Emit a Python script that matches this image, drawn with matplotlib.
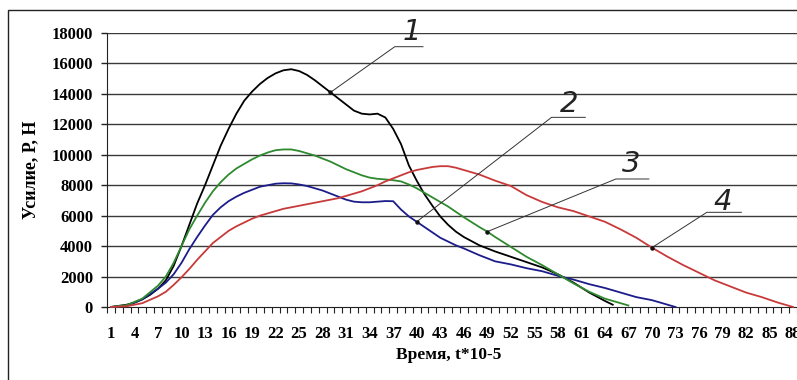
import matplotlib
matplotlib.use("Agg")
import matplotlib.pyplot as plt
from matplotlib.patches import Rectangle

# ---- data ----
t_labels = list(range(1, 89, 3))

x1 = [1, 3, 4, 5, 6, 7, 8, 9, 10, 11, 12, 13, 14, 15, 16, 17, 18, 19, 20, 21, 22, 23, 24, 25, 26, 27, 28, 29, 30,
      31, 32, 33, 34, 35, 36, 37, 38, 39, 40, 41, 42, 43, 44, 45, 46, 48, 50, 52, 54, 56, 58, 60, 62, 64, 65]
y1 = [0, 150, 280, 500, 800, 1200, 1750, 2700, 4000, 5400, 6800, 8000, 9300, 10600, 11700, 12700, 13550, 14150,
      14650, 15050, 15350, 15550, 15620, 15500, 15250, 14900, 14500, 14100, 13700, 13300, 12900, 12700, 12650,
      12700, 12450, 11700, 10700, 9300, 8300, 7400, 6650, 5950, 5400, 4950, 4600, 4050, 3650, 3300, 2950, 2600,
      2150, 1600, 950, 400, 150]

x2 = [1, 3, 5, 7, 8, 9, 10, 11, 12, 13, 14, 15, 16, 17, 18, 19, 20, 21, 22, 23, 24, 25, 26, 27, 28, 29, 30, 31,
      32, 33, 34, 35, 36, 37, 38, 39, 40, 41, 42, 43, 44, 45, 46, 48, 50, 52, 54, 56, 58, 60, 62, 64, 66, 68, 70,
      72, 73]
y2 = [0, 100, 500, 1200, 1600, 2150, 2900, 3800, 4600, 5350, 6050, 6550, 6950, 7250, 7500, 7700, 7900, 8000,
      8100, 8130, 8120, 8050, 7950, 7800, 7650, 7450, 7250, 7050, 6920, 6880, 6880, 6920, 6960, 6950, 6400, 5950,
      5600, 5250, 4900, 4550, 4300, 4050, 3850, 3400, 3000, 2800, 2550, 2350, 2050, 1800, 1500, 1250, 950, 650,
      450, 150, 0]

x3 = [1, 3, 5, 7, 8, 9, 10, 11, 12, 13, 14, 15, 16, 17, 18, 19, 20, 21, 22, 23, 24, 25, 26, 27, 28, 29, 30, 31,
      32, 33, 34, 35, 36, 37, 38, 39, 40, 41, 42, 43, 44, 45, 46, 48, 49, 50, 52, 54, 56, 58, 60, 62, 64, 66, 67]
y3 = [0, 120, 550, 1400, 2000, 2900, 4000, 5100, 6000, 6850, 7600, 8200, 8700, 9100, 9400, 9700, 9950, 10150,
      10300, 10350, 10350, 10250, 10100, 9950, 9750, 9550, 9300, 9050, 8850, 8650, 8500, 8420, 8380, 8330, 8250,
      8050, 7800, 7500, 7200, 6900, 6600, 6250, 5900, 5250, 4950, 4600, 3950, 3300, 2750, 2150, 1550, 1000, 550,
      250, 100]

x4 = [1, 3, 5, 7, 8, 9, 10, 11, 12, 13, 14, 15, 16, 17, 18, 19, 20, 21, 22, 23, 24, 25, 26, 27, 28, 29, 30, 31,
      32, 33, 34, 35, 36, 37, 38, 39, 40, 41, 42, 43, 44, 45, 46, 47, 48, 49, 50, 52, 54, 56, 58, 60, 62, 64, 66,
      68, 70, 72, 74, 76, 78, 80, 82, 84, 86, 88]
y4 = [0, 50, 250, 700, 1000, 1450, 1950, 2500, 3100, 3650, 4200, 4600, 5000, 5300, 5550, 5800, 6000, 6150, 6300,
      6450, 6550, 6650, 6750, 6850, 6950, 7050, 7150, 7300, 7450, 7600, 7800, 8000, 8250, 8450, 8650, 8850, 9000,
      9100, 9200, 9250, 9250, 9150, 9000, 8850, 8700, 8500, 8300, 7950, 7350, 6900, 6550, 6300, 5950, 5600, 5100,
      4550, 3900, 3300, 2750, 2250, 1750, 1350, 950, 650, 300, 0]

series = [(x1, y1, "1", "#000000"),
          (x2, y2, "2", "#1c1c8a"),
          (x3, y3, "3", "#2f8a2f"),
          (x4, y4, "4", "#c83a3a")]

# leader callouts: (series index, category touched, label x, label y, shelf left, shelf right, shelf level)
callouts = [(0, 29, 39.4, 18050, 37.2, 40.8, 17100),
            (1, 40, 59.5, 13350, 57.2, 61.5, 12460),
            (2, 49, 67.4, 9400, 65.4, 69.6, 8410),
            (3, 70, 79.0, 6900, 77.0, 81.4, 6220)]

W, H = 797, 380
fig = plt.figure(figsize=(W / 100, H / 100), dpi=100)
fig.patch.set_facecolor("white")

# chart-area border (left and top visible)
fig.patches.append(Rectangle((8 / W, -0.1), 1.2, 1 - 10 / H + 0.1, transform=fig.transFigure,
                             fill=False, edgecolor="#222222", linewidth=1.0))

ax = fig.add_axes([107 / W, 1 - 307 / H, 1 - 107 / W, (307 - 33) / H])
ax.set_xlim(0.5, 88.5)
ax.set_ylim(0, 18000)

for v in range(2000, 18001, 2000):
    ax.axhline(v, color="#3a3a3a", linewidth=1.0, zorder=1)

for xs, ys, lab, col in series:
    ax.plot(xs, ys, color=col, linewidth=1.3, zorder=3, clip_on=False)

for si, cat, tx, ty, sl, sr, sy in callouts:
    xs, ys = series[si][0], series[si][1]
    py = ys[xs.index(cat)]
    ax.plot([cat, sl, sr], [py, sy, sy], color="#333333", linewidth=0.7, zorder=4, clip_on=False)
    ax.plot([cat], [py], marker="o", markersize=2.2, color="#111111", zorder=5, clip_on=False)
    ax.text(tx, ty, series[si][2], ha="center", va="center", fontsize=21, fontstyle="italic",
            family=["Liberation Sans Narrow", "DejaVu Sans"], color="#222222", zorder=5, clip_on=False)

ax.spines["top"].set_visible(False)
ax.spines["right"].set_visible(False)
ax.spines["left"].set_color("#222222")
ax.spines["bottom"].set_color("#222222")

ax.set_yticks(range(0, 18001, 2000))
ax.set_yticklabels([str(v) for v in range(0, 18001, 2000)],
                   fontfamily="Liberation Serif", fontweight="bold", fontsize=12)
ax.tick_params(axis="y", length=4, width=1, color="#222222", pad=6)

ax.set_xticks(t_labels)
ax.set_xticklabels([str(v) for v in t_labels], fontfamily="Liberation Serif", fontweight="bold", fontsize=12)
ax.set_xticks([v + 0.5 for v in range(0, 89)], minor=True)
ax.tick_params(axis="x", which="major", length=0, pad=14)
ax.tick_params(axis="x", which="minor", length=4, width=0.8, color="#222222")

fig.text(449 / W, 1 - 355 / H, "Время, t*10-5", ha="center", va="center",
         fontfamily="Liberation Serif", fontweight="bold", fontsize=12.5)
fig.text(31 / W, 1 - 170 / H, "Усилие, Р, Н", ha="center", va="center", rotation=90,
         fontfamily="Liberation Serif", fontweight="bold", fontsize=13)

fig.savefig("out.png", dpi=100, facecolor="white")
